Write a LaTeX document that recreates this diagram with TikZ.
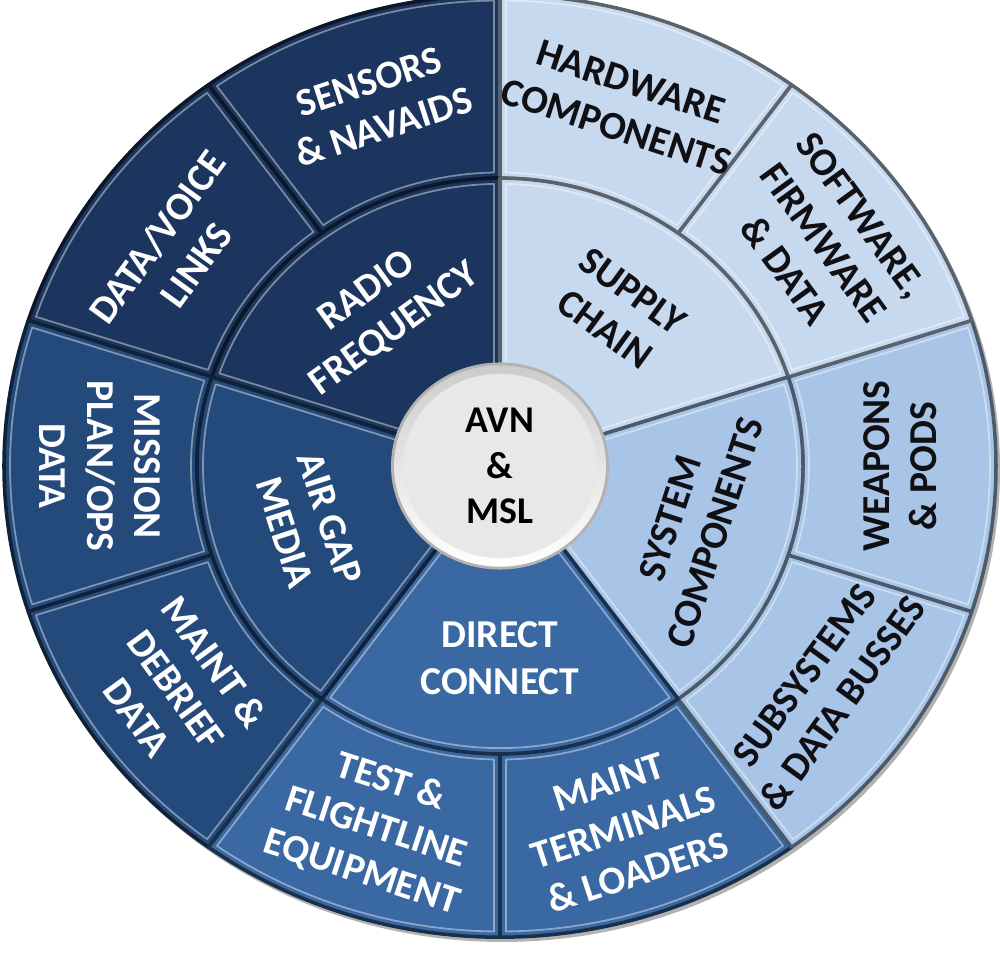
\documentclass[tikz,border=0pt]{standalone}
\usepackage{fontspec}
\setmainfont{Carlito}
\definecolor{rfblue}{RGB}{27,53,94}
\definecolor{gapblue}{RGB}{36,74,124}
\definecolor{directblue}{RGB}{57,104,163}
\definecolor{systemblue}{RGB}{168,197,231}
\definecolor{supplyblue}{RGB}{199,217,239}
\definecolor{textdark}{RGB}{15,15,20}

% one bevelled piece of the wheel: start angle, end angle, inner radius, outer radius, colour
\newcommand{\ringpart}[5]{%
  \pgfmathsetmacro{\insa}{0.12/(#4-0.12)*57.2958}%
  \pgfmathsetmacro{\insb}{0.12/(#3+0.12)*57.2958}%
  \fill[#5] (#1:#4) arc[start angle=#1, end angle=#2, radius=#4] -- (#2:#3) arc[start angle=#2, end angle=#1, radius=#3] -- cycle;
  \draw[#5!45!black, line width=2pt, line join=round] (#1:#4) arc[start angle=#1, end angle=#2, radius=#4] -- (#2:#3) arc[start angle=#2, end angle=#1, radius=#3] -- cycle;
  \draw[#5!40!white, line width=1pt, opacity=0.7, line join=round] ({#1+\insa}:{#4-0.12}) arc[start angle={#1+\insa}, end angle={#2-\insa}, radius={#4-0.12}] -- ({#2-\insb}:{#3+0.12}) arc[start angle={#2-\insb}, end angle={#1+\insb}, radius={#3+0.12}] -- cycle;
}

\begin{document}
\begin{tikzpicture}[
	ringtext/.style={font=\bfseries\fontsize{22.5}{27}\selectfont, align=center, inner sep=0pt},
	ondark/.style={ringtext, text=white},
	onlight/.style={ringtext, text=textdark},
	hubtext/.style={ringtext, text=black, font=\bfseries\fontsize{21.5}{26}\selectfont}
]
\useasboundingbox (-10,-9.76) rectangle (10,9.32);
\begin{scope}[yscale=0.95]
\fill[black!55, opacity=0.55] (0.05,-0.07) circle[radius=9.95];

% outer ring
\foreach \s/\col in {90/rfblue,126/rfblue,162/gapblue,198/gapblue,234/directblue,270/directblue,306/systemblue,342/systemblue,18/supplyblue,54/supplyblue}{
	\pgfmathtruncatemacro{\e}{\s+36}
	\ringpart{\s}{\e}{6.06}{9.92}{\col}
}
% inner ring
\foreach \s/\col in {90/rfblue,18/supplyblue,-54/systemblue,-126/directblue,162/gapblue}{
	\pgfmathtruncatemacro{\e}{\s+72}
	\ringpart{\s}{\e}{2.0}{6.06}{\col}
}

% hub
\fill[gray!60] (0,0) circle[radius=2.18];
\shade[top color=gray!40, bottom color=white] (0,0) circle[radius=2.12];
\fill[gray!18] (0,0) circle[radius=1.94];

\node[ondark, rotate=18] (sensors) at (108:8) {SENSORS\\\& NAVAIDS};
\node[ondark, rotate=54] (datavoice) at (145:7.9) {DATA/VOICE\\LINKS};
\node[ondark, rotate=-90] (mission) at (180:8) {MISSION\\PLAN/OPS\\DATA};
\node[ondark, rotate=-54] (debrief) at (216:8) {MAINT \&\\DEBRIEF\\DATA};
\node[ondark, rotate=-18] (flightline) at (252:8) {TEST \&\\FLIGHTLINE\\EQUIPMENT};
\node[ondark, rotate=18] (terminals) at (288:8) {MAINT\\TERMINALS\\\& LOADERS};
\node[onlight, rotate=54] (busses) at (324:8) {SUBSYSTEMS\\\& DATA BUSSES};
\node[onlight, rotate=90] (weapons) at (0:8) {WEAPONS\\\& PODS};
\node[onlight, rotate=-54] (software) at (36:8) {SOFTWARE,\\FIRMWARE\\\& DATA};
\node[onlight, rotate=-18] (hardware) at (72:8) {HARDWARE\\COMPONENTS};

\node[ondark, rotate=36] (radio) at (126:4.05) {RADIO\\FREQUENCY};
\node[onlight, rotate=-36] (supply) at (54:4.05) {SUPPLY\\CHAIN};
\node[onlight, rotate=72] (system) at (-18:4.05) {SYSTEM\\COMPONENTS};
\node[ondark] (direct) at (-90:4.05) {DIRECT\\CONNECT};
\node[ondark, rotate=-72] (airgap) at (198:4.05) {AIR GAP\\MEDIA};

\node[hubtext] (hub) at (0,0) {AVN\\\&\\MSL};
\end{scope}
\end{tikzpicture}
\end{document}
